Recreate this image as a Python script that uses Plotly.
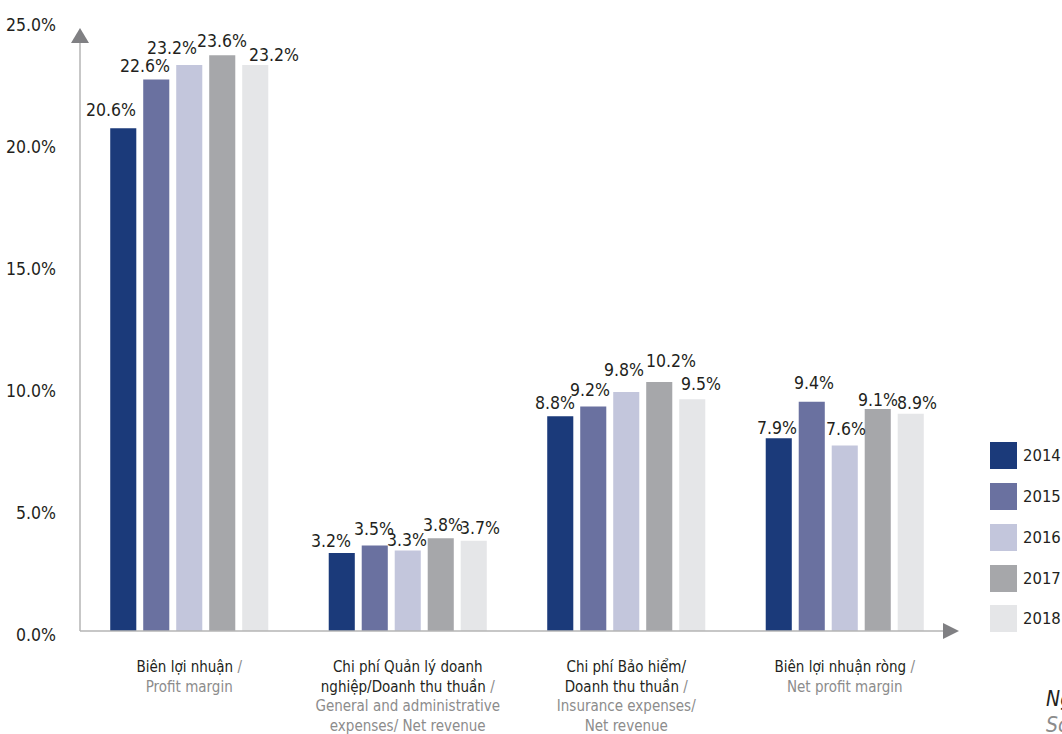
import plotly.graph_objects as go

# ---- data -------------------------------------------------------------
years = ["2014", "2015", "2016", "2017", "2018"]
cat_vi = [
    ["Biên lợi nhuận"],
    ["Chi phí Quản lý doanh", "nghiệp/Doanh thu thuần"],
    ["Chi phí Bảo hiểm/", "Doanh thu thuần"],
    ["Biên lợi nhuận ròng"],
]
cat_en = [
    ["Profit margin"],
    ["General and administrative", "expenses/ Net revenue"],
    ["Insurance expenses/", "Net revenue"],
    ["Net profit margin"],
]
values = {
    "2014": [20.6, 3.2, 8.8, 7.9],
    "2015": [22.6, 3.5, 9.2, 9.4],
    "2016": [23.2, 3.3, 9.8, 7.6],
    "2017": [23.6, 3.8, 10.2, 9.1],
    "2018": [23.2, 3.7, 9.5, 8.9],
}
y_ticks = [0, 5, 10, 15, 20, 25]

# ---- styling ----------------------------------------------------------
colors = ["#1b3a7a", "#6a71a0", "#c3c6dc", "#a6a7aa", "#e5e6e8"]
FONT = "DejaVu Sans Condensed, Liberation Sans Narrow, Roboto, sans-serif"
GREY = "#8c8c8c"
TEXT = "#231f20"

W, H = 1062, 734
L, R, T, B = 80, 108, 21, 103
PW, PH = W - L - R, H - T - B

# label nudges (pixels) so value labels sit like a hand-laid chart
label_dx = [[-12, -11, -5, -2], [-11, -1, -3, 2], [-17, -1, -2, 1], [0, 2, 12, 0], [19, 6, 9, 6]]
label_dy = [[18, 12, 13, 10], [14, 17, 17, 19], [17, 10, 22, 17], [14, 13, 21, 9], [10, 13, 15, 11]]
bar_pitch = 33


def px_x(p):
    return (p - L) / PW


def px_y(p):
    return (H - B - p) / PH


def tick_label(vi_lines, en_lines):
    vi = list(vi_lines)
    vi[-1] = vi[-1] + f" <span style='color:{GREY}'>/</span>"
    en = [f"<span style='color:{GREY}'>{s}</span>" for s in en_lines]
    return "<br>".join(vi + en)


cats = [" ".join(v) for v in cat_vi]

fig = go.Figure()
for i, yr in enumerate(years):
    fig.add_trace(go.Bar(
        x=cats, y=values[yr], name=yr, marker_color=colors[i],
        marker_line_width=0, showlegend=False, hoverinfo="skip",
    ))

annotations = []
for i, yr in enumerate(years):
    for j, v in enumerate(values[yr]):
        annotations.append(dict(
            x=cats[j], y=v, xref="x", yref="y", text=f"{v:.1f}%",
            showarrow=False, xanchor="center", yanchor="middle",
            xshift=(i - 2) * bar_pitch + label_dx[i][j], yshift=label_dy[i][j],
            font=dict(family=FONT, size=17.5, color=TEXT),
        ))

# legend built from years and colors
shapes = []
leg_tops = [442, 483, 524, 565, 605]
for i, yr in enumerate(years):
    top = leg_tops[i]
    shapes.append(dict(type="rect", xref="paper", yref="paper",
                       x0=px_x(990), x1=px_x(1017), y0=px_y(top + 27), y1=px_y(top),
                       fillcolor=colors[i], line_width=0))
    annotations.append(dict(x=px_x(1021), y=px_y(top + 13.5), xref="paper", yref="paper",
                            text=yr, showarrow=False, xanchor="left", yanchor="middle",
                            font=dict(family=FONT, size=16.5, color=TEXT)))

# axes with arrowheads
shapes += [
    dict(type="line", xref="paper", yref="paper", x0=0, x1=0, y0=0, y1=px_y(43),
         line=dict(color="#b5b5b5", width=1.5)),
    dict(type="line", xref="paper", yref="paper", x0=0, x1=px_x(943), y0=0, y1=0,
         line=dict(color="#b5b5b5", width=1.5)),
    dict(type="path", xref="paper", yref="paper", fillcolor="#808083", line_width=0,
         path=f"M {px_x(80)},{px_y(28)} L {px_x(71)},{px_y(43)} L {px_x(89)},{px_y(43)} Z"),
    dict(type="path", xref="paper", yref="paper", fillcolor="#808083", line_width=0,
         path=f"M {px_x(959)},{px_y(631)} L {px_x(943)},{px_y(623)} L {px_x(943)},{px_y(639)} Z"),
]

# source note in the bottom-right corner
annotations += [
    dict(x=px_x(1044), y=px_y(699), xref="paper", yref="paper", text="<i>Nguồn: Sabeco</i>",
         showarrow=False, xanchor="left", yanchor="middle",
         font=dict(family=FONT, size=21, color=TEXT)),
    dict(x=px_x(1044), y=px_y(725), xref="paper", yref="paper", text="<i>Source: Sabeco</i>",
         showarrow=False, xanchor="left", yanchor="middle",
         font=dict(family=FONT, size=21, color=GREY)),
]

fig.update_layout(
    width=W, height=H, autosize=False,
    margin=dict(l=L, r=R, t=T, b=B, pad=0, autoexpand=False),
    paper_bgcolor="white", plot_bgcolor="white",
    barmode="group", bargap=0.245, bargroupgap=0.21,
    font=dict(family=FONT, color=TEXT),
    shapes=shapes, annotations=annotations,
    xaxis=dict(
        tickmode="array", tickvals=cats,
        ticktext=[tick_label(v, e) for v, e in zip(cat_vi, cat_en)],
        showline=False, showgrid=False, zeroline=False, ticks="",
        tickfont=dict(family=FONT, size=15, color=TEXT),
        ticklabelstandoff=25, fixedrange=True, automargin=False,
    ),
    yaxis=dict(
        range=[0, 25], tickvals=y_ticks,
        ticktext=[f"{t:.1f}%" for t in y_ticks],
        showline=False, showgrid=False, zeroline=False, ticks="",
        tickfont=dict(family=FONT, size=17.5, color=TEXT),
        ticklabelstandoff=23, ticklabelshift=4, fixedrange=True, automargin=False,
    ),
)

fig.write_html("out.html")
